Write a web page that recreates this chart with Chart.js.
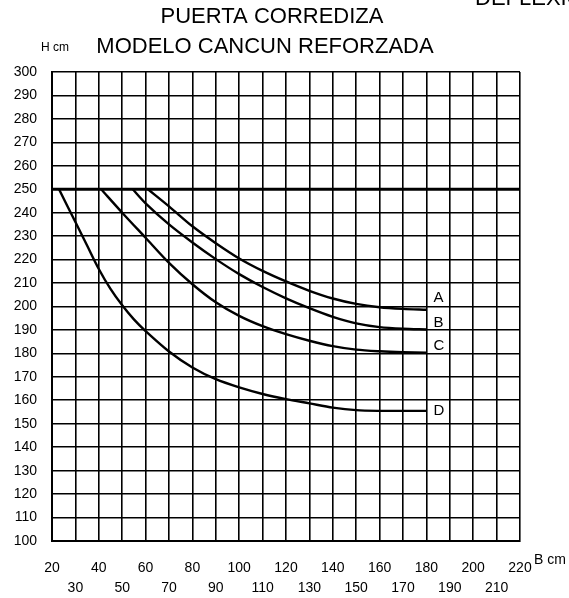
<!DOCTYPE html>
<html><head><meta charset="utf-8">
<script src="https://cdn.jsdelivr.net/npm/chart.js@4/dist/chart.umd.min.js"></script>
<style>html,body{margin:0;padding:0;background:#fff}#wrap{width:569px;height:598px;position:relative}</style>
</head><body><div id="wrap"><canvas id="c" width="569" height="598"></canvas></div>
<script>
// ---- data ----
const xTickLabels = ['20','30','40','50','60','70','80','90','100','110','120','130','140','150','160','170','180','190','200','210','220'];
const yTickLabels = ['100','110','120','130','140','150','160','170','180','190','200','210','220','230','240','250','260','270','280','290','300'];
const seriesNames = ['A','B','C','D'];
const limitB = [20, 220];
const limitH = [250, 250];
const aB = [61,70,80,90,100,110,120,130,140,150,160,170,180];
const aH = [250,242.7,234.2,227,220.5,215.2,210.7,206.7,203.4,201.1,199.7,199,198.6];
const bB = [54.5,60,70,80,90,100,110,120,130,140,150,160,170,180];
const bH = [250,244,235,227.3,220.2,213.8,208.3,203.5,199.3,195.6,192.8,191.2,190.5,190.2];
const cB = [41,50,60,70,80,90,100,110,120,130,140,150,160,170,180];
const cH = [250,240,229.3,218.6,209.5,201.8,196,191.6,188.2,185.4,183.1,181.6,180.9,180.5,180.3];
const dB = [23,30,35,40,45,50,55,60,70,80,90,100,110,120,130,140,150,160,170,180];
const dH = [250,236,226,216,207.5,200.5,194.5,189.5,180.8,174,169,165.5,162.7,160.5,158.7,156.9,155.8,155.5,155.5,155.5];

const pts = (xs, ys) => xs.map((x, i) => ({x, y: ys[i]}));
const FONT = "'Liberation Sans', Arial, Helvetica, sans-serif";

const curveStyle = {borderColor:'#000', borderWidth:2.4, pointRadius:0, fill:false, tension:0.3};

const textPlugin = {
  id: 'texts',
  afterDraw(chart) {
    const ctx = chart.ctx;
    const xs = chart.scales.x, ys = chart.scales.y;
    ctx.save();
    ctx.fillStyle = '#000';
    ctx.textBaseline = 'alphabetic';
    ctx.font = '22px ' + FONT;
    ctx.textAlign = 'center';
    ctx.fillText('PUERTA CORREDIZA', 272, 23);
    ctx.fillText('MODELO CANCUN REFORZADA', 265, 53);
    ctx.textAlign = 'left';
    ctx.fillText('DEFLEXION', 475, 5);
    ctx.font = '12px ' + FONT;
    ctx.fillText('H cm', 41, 51);
    ctx.font = '14px ' + FONT;
    ctx.textBaseline = 'middle';
    ctx.fillText('B cm', 534, 560);
    // series labels
    ctx.font = '15px ' + FONT;
    const offs = [-12, -6.5, -6.5, 0];
    chart.data.datasets.forEach((ds) => {
      if (!ds.seriesLabel) return;
      const last = ds.data[ds.data.length - 1];
      const k = seriesNames.indexOf(ds.seriesLabel);
      ctx.fillText(ds.seriesLabel, xs.getPixelForValue(last.x) + 7, ys.getPixelForValue(last.y) + offs[k]);
    });
    ctx.restore();
  }
};

new Chart(document.getElementById('c'), {
  type: 'line',
  data: {
    datasets: [
      {data: pts(limitB, limitH), borderColor:'#000', borderWidth:3, pointRadius:0, fill:false},
      Object.assign({data: pts(aB, aH), seriesLabel: seriesNames[0]}, curveStyle),
      Object.assign({data: pts(bB, bH), seriesLabel: seriesNames[1]}, curveStyle),
      Object.assign({data: pts(cB, cH), seriesLabel: seriesNames[2]}, curveStyle),
      Object.assign({data: pts(dB, dH), seriesLabel: seriesNames[3]}, curveStyle)
    ]
  },
  options: {
    responsive: false,
    animation: false,
    devicePixelRatio: 1,
    layout: {padding: {top: 72, right: 49, left: 0, bottom: 0}},
    plugins: {legend: {display: false}, title: {display: false}, tooltip: {enabled: false}},
    scales: {
      x: {
        type: 'linear', min: 20, max: 220,
        afterFit: s => { s.height = 57; },
        afterBuildTicks: s => { s.ticks = xTickLabels.map(v => ({value: +v})); },
        grid: {color: '#000', lineWidth: 1.6, drawTicks: false},
        border: {color: '#000', width: 2},
        ticks: {
          autoSkip: false, maxRotation: 0, minRotation: 0, padding: 17.5, color: '#000',
          font: {family: FONT, size: 14, lineHeight: 1.4286},
          callback: (v, i) => i % 2 === 0 ? [xTickLabels[i], ''] : ['', xTickLabels[i]]
        }
      },
      y: {
        type: 'linear', min: 100, max: 300,
        afterFit: s => { s.width = 52; },
        afterBuildTicks: s => { s.ticks = yTickLabels.map(v => ({value: +v})); },
        grid: {color: '#000', lineWidth: 1.6, drawTicks: false},
        border: {color: '#000', width: 2},
        ticks: {
          autoSkip: false, padding: 15, color: '#000',
          font: {family: FONT, size: 14},
          callback: (v, i) => yTickLabels[i]
        }
      }
    }
  },
  plugins: [textPlugin]
});
</script>
</body></html>
